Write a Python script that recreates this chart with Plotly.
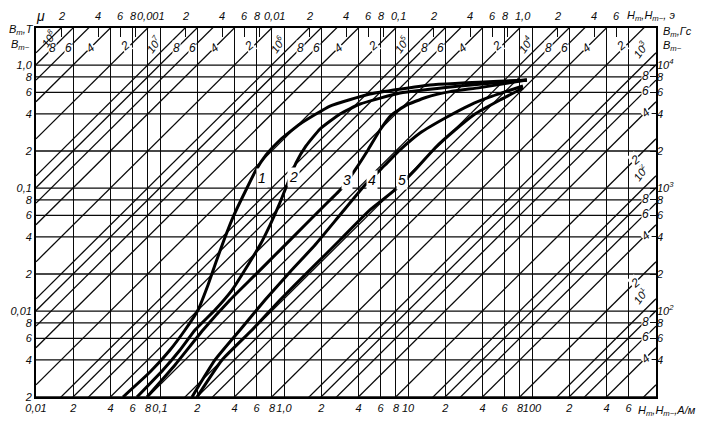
import numpy as np
import plotly.graph_objects as go

MU0 = 4e-7 * np.pi          # H/m
OE = 1000 / (4 * np.pi)      # A/m per oersted

# ---- magnetization curves (H in A/m, B in T) ----
curve1_H = [0.0503, 0.0831, 0.1204, 0.1591, 0.2026, 0.2439, 0.2829, 0.3282, 0.3953, 0.4847, 0.5946, 0.7159, 0.9284, 1.346, 2.35, 4.94, 15.0, 91]
curve1_B = [0.002, 0.00319, 0.00482, 0.00701, 0.0102, 0.0163, 0.025, 0.0378, 0.0604, 0.0928, 0.140, 0.1856, 0.2458, 0.3316, 0.464, 0.581, 0.688, 0.756]
curve2_H = [0.0652, 0.1057, 0.145, 0.1916, 0.2776, 0.3807, 0.5124, 0.6405, 0.7713, 0.9115, 1.0573, 1.2497, 1.5045, 1.9515, 2.829, 4.102, 8.619, 26.27, 91]
curve2_B = [0.002, 0.00332, 0.00482, 0.00701, 0.0102, 0.0148, 0.0237, 0.0344, 0.050, 0.0728, 0.1058, 0.160, 0.2197, 0.302, 0.40, 0.482, 0.592, 0.675, 0.756]
curve3_H = [0.0786, 0.1321, 0.2223, 0.3668, 0.5837, 0.9284, 1.4768, 2.141, 2.936, 3.737, 4.758, 5.946, 7.3, 9.6, 13.9, 21.82, 38.07, 91]
curve3_B = [0.002, 0.00364, 0.00701, 0.0123, 0.0196, 0.0313, 0.050, 0.0728, 0.1001, 0.140, 0.204, 0.2964, 0.39, 0.47, 0.545, 0.608, 0.655, 0.756]
curve4_H = [0.1812, 0.2776, 0.4418, 0.7028, 1.1179, 1.7783, 2.829, 4.499, 6.524, 8.619, 12.5, 20.63, 31.62, 45.86, 84.6]
curve4_B = [0.002, 0.0040, 0.00701, 0.0123, 0.0208, 0.0344, 0.0604, 0.1058, 0.1539, 0.204, 0.280, 0.378, 0.473, 0.550, 0.675]
curve5_H = [0.1988, 0.3162, 0.552, 0.9284, 1.6207, 2.829, 4.938, 7.855, 11.39, 16.51, 23.93, 34.7, 55.2, 84.6]
curve5_B = [0.002, 0.0040, 0.00701, 0.0123, 0.0216, 0.0378, 0.0663, 0.0964, 0.140, 0.2116, 0.2964, 0.40, 0.520, 0.651]
curve_names = ["1", "2", "3", "4", "5"]
curve_label_H = [0.665, 1.2, 3.22, 5.13, 8.95]
curve_label_B = [0.1206, 0.123, 0.1162, 0.1162, 0.1162]

# ---- grid / tick values ----
H_grid = [0.01, 0.02, 0.04, 0.06, 0.08, 0.1, 0.2, 0.4, 0.6, 0.8, 1, 2, 4, 6, 8,
          10, 20, 40, 60, 80, 100, 200, 400, 600]
H_text = ["0,01", "2", "4", "6", "8", "0,1", "2", "4", "6", "8", "1,0", "2", "4", "6", "8",
          "10", "2", "4", "6", "8", "100", "2", "4", "6"]
B_grid = [0.002, 0.004, 0.006, 0.008, 0.01, 0.02, 0.04, 0.06, 0.08, 0.1, 0.2, 0.4, 0.6, 0.8, 1.0]
B_text = ["2", "4", "6", "8", "0,01", "2", "4", "6", "8", "0,1", "2", "4", "6", "8", "1,0"]
Oe_ticks = [2e-4, 4e-4, 6e-4, 8e-4, 1e-3, 2e-3, 4e-3, 6e-3, 8e-3, 0.01, 0.02, 0.04, 0.06, 0.08,
            0.1, 0.2, 0.4, 0.6, 0.8, 1.0, 2, 4, 6]
Oe_text = ["2", "4", "6", "8", "0,001", "2", "4", "6", "8", "0,01", "2", "4", "6", "8",
           "0,1", "2", "4", "6", "8", "1,0", "2", "4", "6"]
Gs_ticks = [40, 60, 80, 100, 200, 400, 600, 800, 1000, 2000, 4000, 6000, 8000, 10000]
Gs_text = ["4", "6", "8", "10<sup>2</sup>", "2", "4", "6", "8", "10<sup>3</sup>", "2", "4", "6", "8", "10<sup>4</sup>"]
mu_mant = [1, 2, 4, 6, 8]
mu_exp = [0, 1, 2, 3, 4, 5, 6, 7, 8]

H_MIN, H_MAX = 0.01, 1000
B_MIN, B_MAX = 0.002, 2.0

# pixel layout (page body adds an 8 px offset)
OFF = 8
SX0, SY0 = 36, 28            # plot-area top-left on screen
PW, PH = 620, 369
W, Hh = 716 - OFF, 427 - OFF
L, T = SX0 - OFF, SY0 - OFF
R, Bm = W - L - PW, Hh - T - PH
XDEC = PW / np.log10(H_MAX / H_MIN)
YDEC = PH / np.log10(B_MAX / B_MIN)

def px_logH(px):
    return np.log10(H_MIN) + (px - SX0) / XDEC

def py_logB(py):
    return np.log10(B_MAX) - (py - SY0) / YDEC

def paper(px, py):
    return (px - SX0) / PW, (SY0 + PH - py) / PH

FONT = "Liberation Sans Narrow, Liberation Sans, Arial"
INK = "#0a0a0a"
GW = 1.3

fig = go.Figure()

# horizontal grid (minor 4/6/8 values stop short of the right label band)
hx, hy = [], []
x_short = 10 ** px_logH(643)
for b, t in zip(B_grid, B_text):
    full = t in ("2", "0,01", "0,1", "1,0")
    hx += [H_MIN, H_MAX if full else x_short, None]
    hy += [b, b, None]
fig.add_trace(go.Scatter(x=hx, y=hy, mode="lines", line=dict(color=INK, width=GW),
                         hoverinfo="skip", showlegend=False))

# constant-permeability diagonals
mus = [m * 10 ** e for e in mu_exp for m in mu_mant if 2 <= m * 10 ** e <= 1e8]
dx, dy = [], []
for mu in mus:
    dx += [H_MIN, H_MAX, None]
    dy += [mu * MU0 * H_MIN, mu * MU0 * H_MAX, None]
fig.add_trace(go.Scatter(x=dx, y=dy, mode="lines", line=dict(color=INK, width=GW),
                         hoverinfo="skip", showlegend=False))

# magnetization curves
for hs, bs in [(curve1_H, curve1_B), (curve2_H, curve2_B), (curve3_H, curve3_B),
               (curve4_H, curve4_B), (curve5_H, curve5_B)]:
    fig.add_trace(go.Scatter(x=hs, y=bs, mode="lines",
                             line=dict(color="black", width=3, shape="spline", smoothing=0.4),
                             hoverinfo="skip", showlegend=False))

# dummy trace for the secondary (Oe / Gs) axes
fig.add_trace(go.Scatter(x=[1e-3], y=[100], xaxis="x2", yaxis="y2", mode="markers",
                         marker=dict(opacity=0), hoverinfo="skip", showlegend=False))

ann = []
# curve labels
for n, h, b in zip(curve_names, curve_label_H, curve_label_B):
    ann.append(dict(x=np.log10(h), y=np.log10(b), xref="x", yref="y", text=f"<i>{n}</i>",
                    showarrow=False, bgcolor="white", borderpad=1,
                    font=dict(size=14, family=FONT, color="black")))

# permeability labels
for mu in mus:
    e = int(np.floor(np.log10(mu) + 1e-9))
    m = int(round(mu / 10 ** e))
    lmu = np.log10(mu * MU0)
    txt = f"<i>10<sup>{e}</sup></i>" if m == 1 else f"<i>{m}</i>"
    if mu == 2:
        continue
    if mu > 1000:
        if m == 1:
            py = 38 if e == 8 else 44
            lb = py_logB(py)
            lh = lb - lmu
            ann.append(dict(x=lh, y=lb, xref="x", yref="y", text=txt, showarrow=False,
                            xshift=(-2 if e == 8 else -15), textangle=-55,
                            font=dict(size=11, family=FONT, color=INK)))
        else:
            py = 46 if m == 2 else 48
            lb = py_logB(py)
            lh = lb - lmu
            ann.append(dict(x=lh, y=lb, xref="x", yref="y", text=txt, showarrow=False,
                            xshift=(-5 if m == 2 else 0), bgcolor="white", borderpad=0,
                            textangle=(-40 if m in (2, 4) else 0),
                            font=dict(size=12, family=FONT, color=INK)))
    else:
        if m == 1:
            lh = px_logH(650)
            lb = lh + lmu
            ann.append(dict(x=lh, y=lb, xref="x", yref="y", text=txt, showarrow=False,
                            xshift=-10, yshift=9, textangle=-55,
                            font=dict(size=11, family=FONT, color=INK)))
        else:
            lh = px_logH(645 if m != 2 else 635)
            lb = lh + lmu
            ann.append(dict(x=lh, y=lb, xref="x", yref="y", text=txt, showarrow=False,
                            bgcolor="white", borderpad=0,
                            textangle=(-40 if m in (2, 4) else 0),
                            font=dict(size=12, family=FONT, color=INK)))

# top (oersted) tick labels, nudged apart like the hand-lettered original
_, top_y = paper(0, 16)
for v, t in zip(Oe_ticks, Oe_text):
    shift = 3 if "," in t else (-2 if t == "8" else 0)
    ann.append(dict(x=np.log10(v), y=top_y, xref="x2", yref="paper", text=f"<i>{t}</i>",
                    showarrow=False, xshift=shift, yanchor="middle",
                    font=dict(size=11, family=FONT, color=INK)))

# axis titles
def pann(px, py, text, size=12, xanchor="center"):
    xp, yp = paper(px, py)
    ann.append(dict(x=xp, y=yp, xref="paper", yref="paper", text=text, showarrow=False,
                    xanchor=xanchor, yanchor="middle", font=dict(size=size, family=FONT, color=INK)))

pann(21, 30, "<i>B<sub>m</sub>,T</i>", size=11)
pann(20, 45, "<i>B<sub>m~</sub></i>", size=11)
pann(40, 16, "<i>μ</i>", size=14)
pann(677, 32, "<i>B<sub>m</sub>,Гс</i>", size=11)
pann(672, 46, "<i>B<sub>m~</sub></i>", size=11)
pann(636, 411, "<i>H<sub>m</sub>,H<sub>m~</sub>,A/м</i>", size=11, xanchor="left")
pann(625, 16, "<i>H<sub>m</sub>,H<sub>m~</sub>, э</i>", size=11, xanchor="left")

tickfont = dict(size=11, family=FONT, color=INK)
fig.update_layout(
    width=W, height=Hh, margin=dict(l=L, r=R, t=T, b=Bm, autoexpand=False),
    paper_bgcolor="white", plot_bgcolor="white", showlegend=False,
    annotations=ann,
    xaxis=dict(type="log", range=[np.log10(H_MIN), np.log10(H_MAX)], tickvals=H_grid,
               ticktext=[f"<i>{t}</i>" for t in H_text], showgrid=True, gridcolor=INK, gridwidth=GW,
               showline=True, linecolor="black", linewidth=1.8, mirror=True, ticks="",
               zeroline=False, tickfont=tickfont, fixedrange=True, tickangle=0, automargin=False),
    yaxis=dict(type="log", range=[np.log10(B_MIN), np.log10(B_MAX)], tickvals=B_grid,
               ticktext=[f"<i>{t}</i>" for t in B_text], showgrid=False,
               showline=True, linecolor="black", linewidth=1.8, mirror=True, ticks="",
               zeroline=False, tickfont=tickfont, fixedrange=True, automargin=False),
    xaxis2=dict(type="log", overlaying="x", side="top",
                range=[np.log10(H_MIN / OE), np.log10(H_MAX / OE)], tickvals=Oe_ticks,
                showticklabels=False, showgrid=False, ticks="inside",
                ticklen=9, tickcolor=INK, tickwidth=GW, showline=False,
                fixedrange=True, automargin=False),
    yaxis2=dict(type="log", overlaying="y", side="right",
                range=[np.log10(B_MIN * 1e4), np.log10(B_MAX * 1e4)], tickvals=Gs_ticks,
                ticktext=[f"<i>{t}</i>" for t in Gs_text], showgrid=False, ticks="inside",
                ticklen=6, tickcolor=INK, tickwidth=GW, showline=False, tickfont=tickfont,
                fixedrange=True, automargin=False),
)

fig.write_html("out.html")
